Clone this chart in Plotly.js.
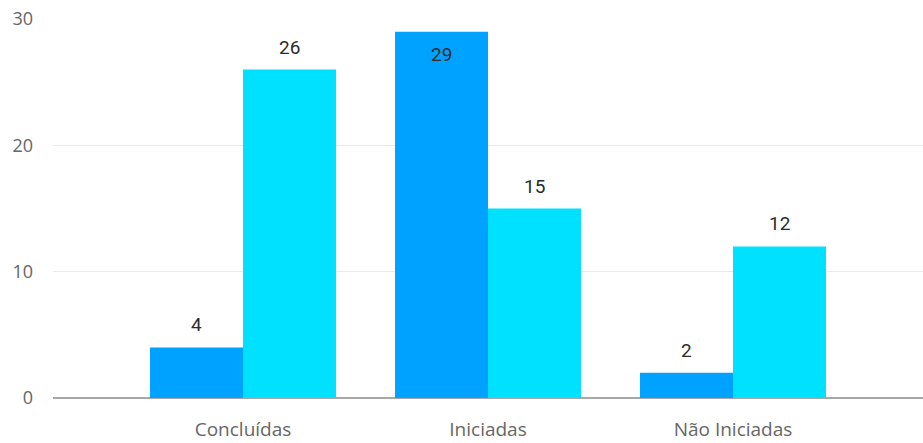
<!DOCTYPE html>
<html>
<head>
<meta charset="utf-8">
<script src="https://cdn.plot.ly/plotly-3.0.1.min.js"></script>
<style>html,body{margin:0;padding:0;background:#fff;}#chart{width:923px;height:443px;}</style>
</head>
<body>
<div id="chart"></div>
<script>
const categories = ["Concluídas", "Iniciadas", "Não Iniciadas"];
const seriesA = [4, 29, 2];
const seriesB = [26, 15, 12];
const yTicks = [0, 10, 20, 30];

const colorA = "#00A2FF";
const colorB = "#00E1FF";

const traces = [
  {type: "bar", x: categories, y: seriesA, marker: {color: colorA}, hoverinfo: "none", name: "A"},
  {type: "bar", x: categories, y: seriesB, marker: {color: colorB}, hoverinfo: "none", name: "B"}
];

const barPx = 93;
const labelFont = {family: "Roboto, 'DejaVu Sans', sans-serif", size: 19, color: "#2b2b2b"};
const annotations = [];
function addLabels(vals, xshift) {
  vals.forEach((v, i) => {
    const inside = v >= 28;
    annotations.push({
      x: categories[i], y: v, xref: "x", yref: "y",
      text: String(v), showarrow: false, font: labelFont,
      xshift: xshift,
      yanchor: inside ? "top" : "bottom",
      yshift: inside ? -9 : 9
    });
  });
}
addLabels(seriesA, -barPx / 2);
addLabels(seriesB, barPx / 2);

const layout = {
  width: 923, height: 443,
  margin: {l: 53, r: 0, t: 19, b: 45, pad: 0},
  paper_bgcolor: "#fff", plot_bgcolor: "#fff",
  showlegend: false,
  barmode: "group", bargap: 0.241, bargroupgap: 0,
  font: {family: "'Open Sans', 'Noto Sans', sans-serif", color: "#666"},
  xaxis: {
    range: [-0.7755, 2.7755], showgrid: false, zeroline: false, showline: false,
    ticks: "", tickfont: {size: 19, color: "#666"}, ticklabelstandoff: 18, fixedrange: true
  },
  yaxis: {
    range: [0, 30], tickvals: yTicks, ticktext: yTicks.map(String),
    showgrid: true, gridcolor: "#e9e9e9", gridwidth: 1,
    zeroline: true, zerolinecolor: "#a8a8a8", zerolinewidth: 1.5,
    showline: false, ticks: "", tickfont: {size: 18, color: "#666"},
    ticklabelstandoff: 19, fixedrange: true
  },
  annotations: annotations
};

Plotly.newPlot("chart", traces, layout, {staticPlot: true, displayModeBar: false});
</script>
</body>
</html>
